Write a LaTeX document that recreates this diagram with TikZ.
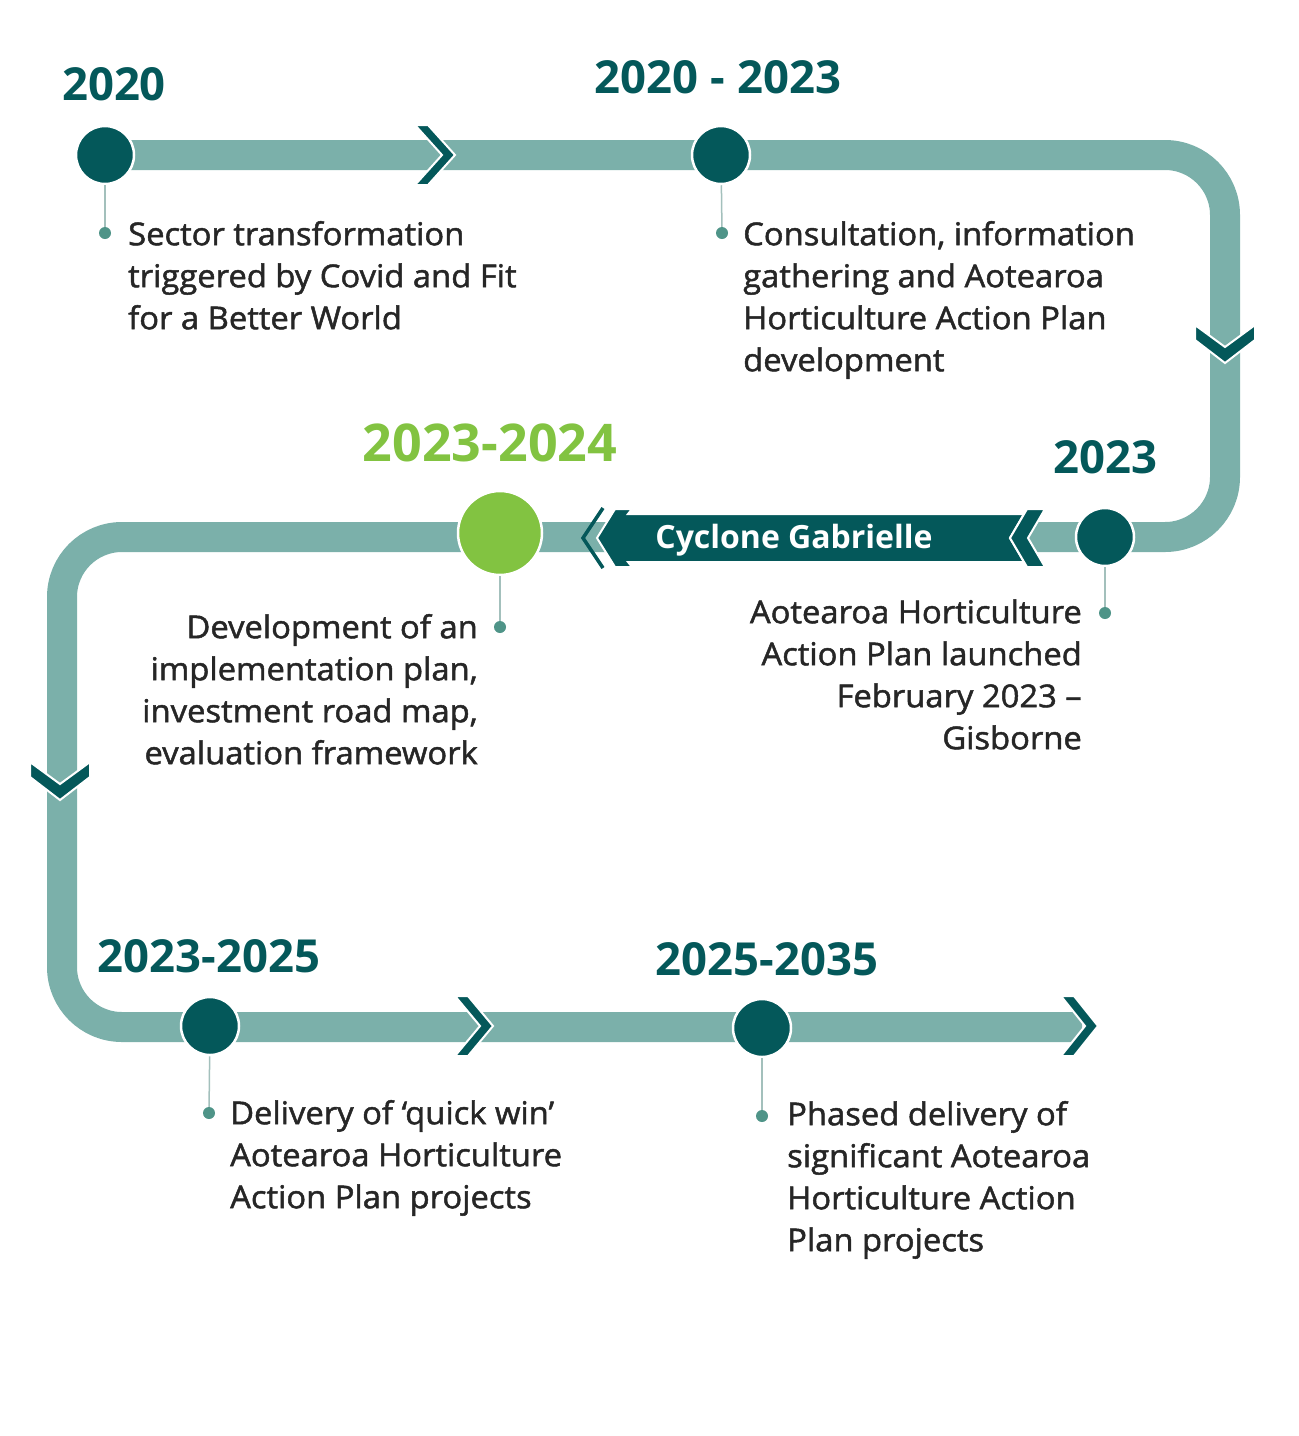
\documentclass[tikz,border=0pt]{standalone}
\usepackage{fontspec}
\setmainfont{Open Sans}
\newfontfamily\bodyfont{Open Sans}[FakeBold=1.5,FakeStretch=1.04]
\definecolor{dteal}{HTML}{04585A}
\definecolor{bandc}{HTML}{7BB0AA}
\definecolor{lgreen}{HTML}{82C341}
\definecolor{dotc}{HTML}{4F9488}
\definecolor{linec}{HTML}{A3C0BC}
\definecolor{txt}{HTML}{262626}
\begin{document}
\begin{tikzpicture}[x=1pt,y=-1pt,
  year/.style={font=\bfseries\fontsize{45.5}{50}\selectfont, text=dteal, anchor=base, inner sep=0},
  body/.style={font=\bodyfont\fontsize{31.5}{42}\selectfont, text=txt, inner sep=0},
  milestone/.style={circle, fill=dteal, draw=white, line width=2.5pt, minimum size=58pt, inner sep=0},
  bullet/.style={circle, fill=dotc, minimum size=12pt, inner sep=0},
  tick/.style={draw=linec, line width=1.5pt},
  chev/.style={fill=dteal, draw=white, line width=2pt, line join=miter}]
\fill[white] (0,0) rectangle (1299,1436);
\useasboundingbox (0,0) rectangle (1299,1436);
% main band
\draw[draw=bandc, line width=30pt, rounded corners=60pt]
  (105,155) -- (1225,155) -- (1225,537) -- (62,537) -- (62,1027) -- (1082,1027);
% chevrons on the band
\filldraw[chev] (415,125) -- (428,125) -- (455,155) -- (428,185) -- (415,185) -- (442,155) -- cycle;
\filldraw[chev] (1195,325) -- (1225,347) -- (1255,325) -- (1255,340) -- (1225,363) -- (1195,340) -- cycle;
\filldraw[chev] (30,762) -- (60,784) -- (90,762) -- (90,777) -- (60,800) -- (30,777) -- cycle;
\filldraw[chev] (455,996) -- (468,996) -- (493,1026) -- (468,1056) -- (455,1056) -- (480,1026) -- cycle;
\filldraw[chev] (1061,996) -- (1074,996) -- (1098,1026) -- (1074,1056) -- (1061,1056) -- (1085,1026) -- cycle;
% Cyclone banner
\draw[dteal, line width=3.5pt, line join=miter] (603,508) -- (583,538) -- (603,568);
\filldraw[chev] (615,509) -- (632,509) -- (628,514) -- (1024,514) -- (1010,538) -- (1024,562)
  -- (628,562) -- (632,567) -- (615,567) -- (597,538) -- cycle;
\filldraw[chev] (1027,509) -- (1045,509) -- (1028,538) -- (1045,567) -- (1027,567) -- (1010,538) -- cycle;
\node[font=\bfseries\fontsize{32}{36}\selectfont, text=white, anchor=base, inner sep=0] (cyc) at (794,548) {Cyclone Gabrielle};
% milestones
\node[milestone] (m1) at (105,155) {};
\node[milestone] (m2) at (721,155) {};
\node[milestone] (m3) at (1105,537) {};
\node[milestone, fill=lgreen, minimum size=84pt] (m4) at (500,533) {};
\node[milestone] (m5) at (210,1026) {};
\node[milestone] (m6) at (762,1028) {};
% bullets
\node[bullet] (d1) at (105,233) {};
\node[bullet] (d2) at (722,233) {};
\node[bullet] (d3) at (1105,613) {};
\node[bullet] (d4) at (500,627) {};
\node[bullet] (d5) at (209,1113) {};
\node[bullet] (d6) at (762,1116) {};
\draw[tick] (m1) -- (d1);
\draw[tick] (m2) -- (d2);
\draw[tick] (m3) -- (d3);
\draw[tick] (m4) -- (d4);
\draw[tick] (m5) -- (d5);
\draw[tick] (m6) -- (d6);
% years
\node[year] (y1) at (114,100) {2020};
\node[year] (y2) at (718,93) {2020 - 2023};
\node[year, text=lgreen, font=\bfseries\fontsize{52}{56}\selectfont] (y4) at (490,461) {2023-2024};
\node[year] (y3) at (1105,473) {2023};
\node[year] (y5) at (209,972) {2023-2025};
\node[year] (y6) at (767,975) {2025-2035};
% texts
\node[body, anchor=north west, align=left] (t1) at (128,215)
  {\rule{0pt}{30pt}Sector transformation\\triggered by Covid and Fit\\for a Better World};
\node[body, anchor=north west, align=left] (t2) at (743,215)
  {\rule{0pt}{30pt}Consultation, information\\gathering and Aotearoa\\Horticulture Action Plan\\development};
\node[body, anchor=north east, align=right] (t3) at (1082,593)
  {\rule{0pt}{30pt}Aotearoa Horticulture\\Action Plan launched\\February 2023 –\\Gisborne};
\node[body, anchor=north east, align=right] (t4) at (478,608)
  {\rule{0pt}{30pt}Development of an\\implementation plan,\\investment road map,\\evaluation framework};
\node[body, anchor=north west, align=left] (t5) at (230,1094)
  {\rule{0pt}{30pt}Delivery of ‘quick win’\\Aotearoa Horticulture\\Action Plan projects};
\node[body, anchor=north west, align=left] (t6) at (787,1095)
  {\rule{0pt}{30pt}Phased delivery of\\significant Aotearoa\\Horticulture Action\\Plan projects};
\end{tikzpicture}
\end{document}
